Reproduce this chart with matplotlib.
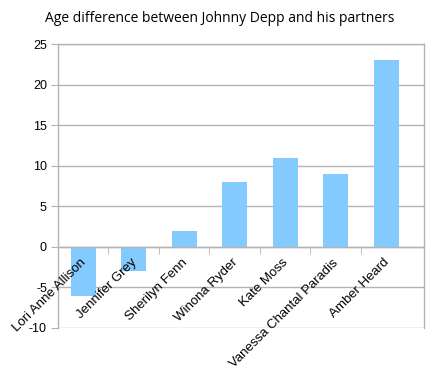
import matplotlib
matplotlib.use("Agg")
import matplotlib.pyplot as plt
import matplotlib.transforms as mtransforms
import numpy as np

categories = ["Lori Anne Allison", "Jennifer Grey", "Sherilyn Fenn", "Winona Ryder",
              "Kate Moss", "Vanessa Chantal Paradis", "Amber Heard"]
values = [-6, -3, 2, 8, 11, 9, 23]
yticks = [-10, -5, 0, 5, 10, 15, 20, 25]
title = "Age difference between Johnny Depp and his partners"

plt.rcParams['font.family'] = ['Liberation Sans', 'DejaVu Sans']

fig = plt.figure(figsize=(4.39, 3.75), dpi=100)
ax = fig.add_axes([58/439, 1-328/375, (424-58)/439, (328-44)/375])

grid_c = "#b3b3b3"
x = np.arange(len(categories))
ax.bar(x, values, width=0.5, color="#83caff", zorder=2)

ax.set_xlim(-0.5, len(categories) - 0.25)
ax.set_ylim(yticks[0], yticks[-1])
ax.set_yticks(yticks)
ax.set_yticklabels([str(v) for v in yticks], fontsize=9)
ax.yaxis.grid(True, color=grid_c, linewidth=1, zorder=0)
ax.set_axisbelow(True)
ax.tick_params(axis='y', length=5, color=grid_c, pad=3, labelcolor='black')

ax.set_xticks([])
ax.set_xticks(np.arange(0.5, len(categories) - 1, 1.0), minor=True)
ax.tick_params(axis='x', which='minor', length=5, color=grid_c, direction='out')
ax.spines['bottom'].set_position(('data', 0))
for s in ['bottom', 'left', 'right', 'top']:
    ax.spines[s].set_color(grid_c)
    ax.spines[s].set_linewidth(1)

off = mtransforms.offset_copy(ax.transData, fig=fig, x=1, y=-14, units='dots')
for xi, name in zip(x, categories):
    ax.text(xi, 0, name, transform=off, rotation=45, rotation_mode='anchor',
            ha='right', va='center', fontsize=9.5, color='black', zorder=5)

fig.text(0.5, 1 - 18/375, title, ha='center', va='center', fontsize=10,
         family=['Open Sans', 'DejaVu Sans'], color='black')

fig.savefig("out.png", dpi=100, facecolor='white')
